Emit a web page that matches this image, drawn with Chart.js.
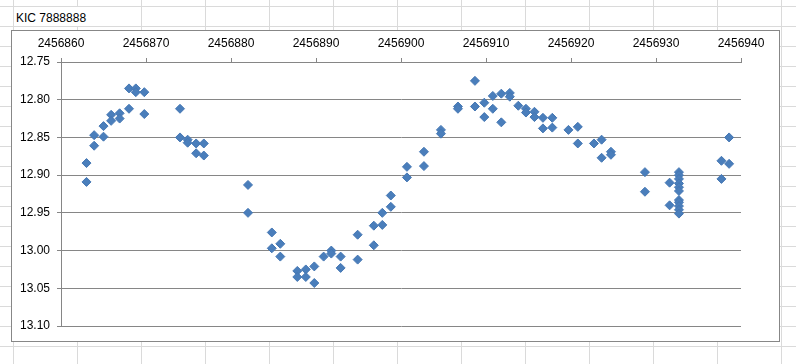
<!DOCTYPE html>
<html>
<head>
<meta charset="utf-8">
<script src="https://cdn.jsdelivr.net/npm/chart.js@4"></script>
<style>
  html, body {
    margin: 0;
    padding: 0;
    width: 796px;
    height: 364px;
    overflow: hidden;
    background-color: #fff;
    background-image:
      linear-gradient(to right, #dadada 1px, transparent 1px),
      linear-gradient(to bottom, #dadada 1px, transparent 1px);
    background-size: 64px 20px;
    background-position: 13px 6px;
    font-family: "Liberation Sans", Arial, sans-serif;
  }
  #title {
    position: absolute;
    left: 14px;
    top: 7px;
    width: 127px;
    height: 19px;
    line-height: 22px;
    padding-left: 2px;
    box-sizing: border-box;
    background: #fff;
    font-size: 12px;
    color: #000;
    white-space: nowrap;
  }
  #box {
    position: absolute;
    left: 11px;
    top: 30px;
    width: 767px;
    height: 310px;
    border: 1px solid #878787;
    background: #fff;
  }
</style>
</head>
<body>
<div id="title">KIC 7888888</div>
<div id="box"><canvas id="chart" width="767" height="310"></canvas></div>
<script>
// Julian dates of the observations and the measured magnitudes
const julianDates = [
  2456863.0, 2456863.0, 2456863.9, 2456863.9, 2456865.0, 2456865.0, 2456865.9, 2456865.9,
  2456866.9, 2456866.9, 2456868.0, 2456868.0, 2456868.8, 2456868.8, 2456869.8, 2456869.8,
  2456874.0, 2456874.0, 2456874.9, 2456874.9, 2456875.9, 2456875.9, 2456876.8, 2456876.8,
  2456882.0, 2456882.0, 2456884.8, 2456884.8, 2456885.8, 2456885.8, 2456887.8, 2456887.8,
  2456888.8, 2456888.8, 2456889.8, 2456889.8, 2456890.9, 2456891.8, 2456891.8, 2456892.9,
  2456892.9, 2456894.9, 2456894.9, 2456896.8, 2456896.8, 2456897.8, 2456897.8, 2456898.8,
  2456898.8, 2456900.7, 2456900.7, 2456902.7, 2456902.7, 2456904.7, 2456904.7, 2456906.7,
  2456906.7, 2456908.7, 2456908.7, 2456909.8, 2456909.8, 2456910.8, 2456910.8, 2456911.8,
  2456911.8, 2456912.8, 2456912.8, 2456913.8, 2456914.7, 2456914.7, 2456915.7, 2456915.7,
  2456916.7, 2456916.7, 2456917.8, 2456917.8, 2456919.7, 2456920.8, 2456920.8, 2456922.7,
  2456923.6, 2456923.6, 2456924.7, 2456924.7, 2456928.7, 2456928.7, 2456931.6, 2456931.6,
  2456932.7, 2456932.7, 2456932.7, 2456932.7, 2456932.7, 2456932.7, 2456932.7, 2456932.7,
  2456932.7, 2456932.7, 2456932.7, 2456937.7, 2456937.7, 2456938.6, 2456938.6
];
const magnitudes = [
  12.884, 12.909, 12.861, 12.847, 12.835, 12.849, 12.820, 12.828,
  12.818, 12.825, 12.812, 12.785, 12.785, 12.790, 12.790, 12.819,
  12.812, 12.850, 12.853, 12.857, 12.858, 12.871, 12.858, 12.874,
  12.913, 12.950, 12.976, 12.997, 12.991, 13.008, 13.027, 13.035,
  13.025, 13.035, 13.021, 13.043, 13.008, 13.000, 13.004, 13.008,
  13.023, 12.979, 13.012, 12.967, 12.993, 12.950, 12.966, 12.927,
  12.942, 12.889, 12.903, 12.869, 12.888, 12.840, 12.845, 12.809,
  12.812, 12.775, 12.809, 12.804, 12.823, 12.795, 12.812, 12.792,
  12.830, 12.791, 12.796, 12.808, 12.812, 12.817, 12.816, 12.823,
  12.824, 12.838, 12.824, 12.837, 12.840, 12.836, 12.858, 12.858,
  12.853, 12.877, 12.869, 12.873, 12.896, 12.922, 12.910, 12.940,
  12.896, 12.900, 12.905, 12.911, 12.916, 12.921, 12.933, 12.936,
  12.941, 12.946, 12.951, 12.881, 12.905, 12.850, 12.885
];
// axis ranges
const xRange = [2456860, 2456940, 10];
const yRange = [12.75, 13.10, 0.05];

const points = julianDates.map((jd, i) => ({ x: jd, y: magnitudes[i] }));

Chart.defaults.font.family = '"Liberation Sans", Arial, sans-serif';
Chart.defaults.font.size = 12;
Chart.defaults.color = '#000';

const axisGray = '#868686';

new Chart(document.getElementById('chart'), {
  type: 'scatter',
  data: {
    datasets: [{
      data: points,
      pointStyle: 'rectRot',
      pointRadius: 4.5,
      pointHoverRadius: 4.5,
      backgroundColor: '#4a7ebb',
      borderColor: '#4577b3',
      borderWidth: 1
    }]
  },
  options: {
    responsive: false,
    animation: false,
    layout: { padding: { top: 0, right: 38, bottom: 15, left: 0 } },
    plugins: {
      legend: { display: false },
      tooltip: { enabled: false }
    },
    scales: {
      x: {
        type: 'linear',
        position: 'top',
        min: xRange[0],
        max: xRange[1],
        afterFit: s => { s.height = 31; },
        ticks: {
          stepSize: xRange[2],
          padding: 7,
          maxRotation: 0,
          callback: v => String(v)
        },
        grid: {
          drawOnChartArea: false,
          tickLength: 4,
          color: axisGray
        },
        border: { display: true, color: axisGray }
      },
      y: {
        type: 'linear',
        reverse: true,
        min: yRange[0],
        max: yRange[1],
        afterFit: s => { s.width = 49; },
        ticks: {
          stepSize: yRange[2],
          padding: 7,
          callback: v => Number(v).toFixed(2)
        },
        grid: {
          tickLength: 4,
          color: axisGray
        },
        border: { display: true, color: axisGray }
      }
    }
  }
});
</script>
</body>
</html>
